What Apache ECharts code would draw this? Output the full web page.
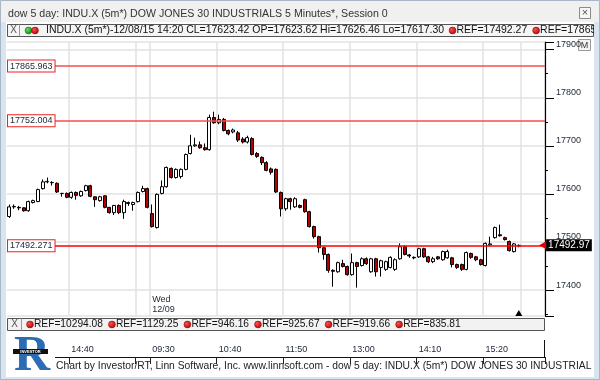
<!DOCTYPE html>
<html><head><meta charset="utf-8">
<script src="https://cdn.jsdelivr.net/npm/echarts@6/dist/echarts.min.js"></script>
<style>html,body{margin:0;padding:0;background:#fff;overflow:hidden}#chart{width:600px;height:380px}</style>
</head><body><div id="chart"></div>
<script>
// ---------- data ----------
const symbolName = 'INDU.X (5m*)';
const titleText = 'dow 5 day: INDU.X (5m*) DOW JONES 30 INDUSTRIALS 5 Minutes*, Session 0';
const footerText = 'Chart by Investor/RT, Linn Software, Inc. www.linnsoft.com - dow 5 day: INDU.X (5m*) DOW JONES 30 INDUSTRIAL';
const day1 = {date: '12/08', year: '15', start: [13, 35], bars: 30};
const day2 = {date: '12/09', dayName: 'Wed', start: [9, 30], bars: 78};
const padBars = 5;

const opens = [17553,17573,17572,17571,17565,17582,17584,17611,17625,17623.62,17622,17601,17601,17593,17603,17596,17607,17617,17594,17586,17596,17572,17561,17576,17561,17582,17578,17584,17605,17611,
17559,17530,17601,17615,17653,17634,17636,17651,17684,17700,17702,17696,17692,17759,17748,17755,17732,17729,17727,17714,17708,17715,17684,17676,17665,17652,17651,17603,17569,17590,17573,17576,17588,17563,17532,17511,17488,17474,17441,17438,17455,17449,
17432,17457,17451,17465,17438,17465,17447,17443,17447,17443,17465,17490,17473,17468,17469,17486,17469,17459,17469,17463,17467,17467,17453,17453,17443,17476,17469,17463,17451,17494,17509,17515,17509,17501,17480,17492];
const closes = [17573,17574,17571,17565,17584,17586,17609,17625,17626,17623.42,17604,17601,17593,17603,17597,17605,17617,17595,17588,17594,17572,17561,17576,17561,17584,17580,17582,17603,17611,17572,
17532,17599,17615,17655,17634,17651,17651,17682,17700,17702,17696,17692,17759,17748,17755,17732,17725,17733,17712,17708,17717,17682,17678,17665,17649,17645,17604,17569,17590,17584,17590,17572,17563,17532,17511,17488,17474,17441,17439,17457,17449,17432,
17457,17449,17465,17455,17465,17438,17461,17459,17468,17463,17490,17474,17471,17467,17486,17469,17459,17465,17465,17480,17480,17453,17447,17443,17478,17468,17463,17453,17497,17496,17530,17513,17505,17482,17496,17492.97];
const lows = [17550,17569,17566,17563,17563,17580,17583,17609,17622,17617.30,17602,17594,17591,17590,17588,17594,17605,17593,17573,17584,17570,17559,17556,17558,17548,17575,17565,17582,17603,17570,
17530,17528,17599,17613,17632,17632,17632,17649,17682,17698,17694,17690,17690,17746,17745,17730,17722,17726,17708,17705,17705,17680,17675,17660,17647,17640,17602,17553,17565,17567,17571,17570,17561,17530,17507,17478,17463,17436,17407,17436,17447,17430,
17430,17405,17449,17452,17436,17428,17428,17440,17445,17440,17463,17472,17467,17464,17467,17467,17456,17456,17463,17461,17465,17447,17444,17440,17441,17465,17460,17451,17449,17492,17507,17511,17503,17480,17478,17489];
const highs = [17578,17578,17575,17572,17586,17588,17611,17630,17634,17626.46,17624,17602,17603,17605,17605,17607,17619,17619,17595,17596,17597,17573,17577,17578,17588,17584,17584,17605,17617,17613,
17578,17601,17628,17657,17655,17653,17653,17684,17723,17717,17709,17705,17765,17771,17765,17758,17734,17736,17731,17718,17721,17718,17687,17678,17668,17655,17653,17605,17592,17592,17593,17578,17590,17565,17534,17513,17490,17476,17443,17459,17463,17451,
17476,17459,17468,17468,17467,17467,17463,17461,17470,17466,17497,17493,17475,17470,17488,17488,17471,17469,17471,17482,17484,17469,17455,17455,17480,17478,17471,17465,17499,17511,17532,17536,17511,17503,17498,17495];

const refLines = [17865.963, 17752.004, 17492.271];
const topRefs = [17492.27, 17865.96];
const bottomRefs = [10294.08, 1129.25, 946.16, 925.67, 919.66, 835.81];
const lastPrice = 17492.97;
const legendBar = 9; // bar shown in the top legend
const tickTimes = ['12/08 14:40','12/08 15:50','12/09 09:30','12/09 10:40','12/09 11:50','12/09 13:00','12/09 14:10','12/09 15:20'];
const labelTimes = ['12/08 14:40','12/09 09:30','12/09 10:40','12/09 11:50','12/09 13:00','12/09 14:10','12/09 15:20'];
const extraSplit = ['12/09 16:00'];
const yMin = 17346, yMax = 17916;

// ---------- build ----------
function makeTimes(date, hm, n) {
  const out = [];
  for (let k = 0; k < n; k++) {
    const t = hm[0] * 60 + hm[1] + 5 * k;
    out.push(date + ' ' + String(Math.floor(t / 60)).padStart(2, '0') + ':' + String(t % 60).padStart(2, '0'));
  }
  return out;
}
const categories = makeTimes(day1.date, day1.start, day1.bars).concat(makeTimes(day2.date, day2.start, day2.bars + padBars));
const candles = opens.map((o, i) => [o, closes[i], lows[i], highs[i]]);
const splitSet = new Set(tickTimes.concat(extraSplit));
const tickSet = new Set(tickTimes);
const labelSet = new Set(labelTimes);
const day2Index = day1.bars;

const FAM = '"Liberation Sans", Arial, sans-serif';
const cv = document.createElement('canvas').getContext('2d');
function textW(s, size) { cv.font = size + 'px ' + FAM; return cv.measureText(s).width; }
function fit(s, target) { return 10 * target / textW(s, 10); }

const G = [];
// window chrome
G.push({type:'rect', z:-5, shape:{x:0,y:0,width:600,height:22}, style:{fill:'#f0f0f0'}});
G.push({type:'rect', z:100, shape:{x:0,y:22,width:6,height:358}, style:{fill:'#d9e4f1'}});
G.push({type:'rect', z:100, shape:{x:594,y:22,width:6,height:358}, style:{fill:'#d9e4f1'}});
G.push({type:'rect', z:100, shape:{x:0,y:377,width:600,height:3}, style:{fill:'#d9e4f1'}});
G.push({type:'rect', z:100, shape:{x:0.5,y:0.5,width:599,height:379}, style:{fill:null, stroke:'#a9b6c6', lineWidth:1}});
const tSize = fit(titleText, 380);
G.push({type:'text', x:8, y:14, style:{text:titleText, font:tSize.toFixed(2)+'px '+FAM, fill:'#333', verticalAlign:'middle'}});
G.push({type:'rect', shape:{x:579.5,y:7.5,width:11,height:11}, style:{fill:'#f7f7f7', stroke:'#8a8a8a'}});
G.push({type:'text', x:585, y:13, style:{text:'×', font:'11px '+FAM, fill:'#555', align:'center', verticalAlign:'middle'}});

// top legend
G.push({type:'rect', shape:{x:7.5,y:24.5,width:586,height:12}, style:{fill:'#f5f5f5', stroke:'#555'}});
G.push({type:'line', shape:{x1:19.5,y1:24.5,x2:19.5,y2:36.5}, style:{stroke:'#999'}});
G.push({type:'text', x:13.5, y:30.5, style:{text:'X', font:'10px '+FAM, fill:'#555', align:'center', verticalAlign:'middle'}});
function dot(cx, cy, c1, c2) {
  return {type:'circle', z:5, shape:{cx:cx, cy:cy, r:3.4}, style:{stroke:c2, lineWidth:0.6,
    fill:{type:'radial', x:0.35, y:0.35, r:0.8, colorStops:[{offset:0,color:c1},{offset:1,color:c2}]}}};
}
G.push(dot(28.5, 30.5, '#5fe05f', '#0a7a0a'));
G.push(dot(35, 30.5, '#ff5050', '#a00000'));
const b = legendBar;
const mainLegend = `${symbolName}-${categories[b].slice(0,5)}/${day1.year} ${categories[b].slice(6)} CL=${closes[b].toFixed(2)} OP=${opens[b].toFixed(2)} Hi=${highs[b].toFixed(2)} Lo=${lows[b].toFixed(2)}`;
const lSize = fit(mainLegend, 398);
const lFont = lSize.toFixed(2) + 'px ' + FAM;
G.push({type:'text', x:46, y:30.5, style:{text:mainLegend, font:lFont, fill:'#111', verticalAlign:'middle'}});
let xx = 46 + textW(mainLegend, lSize);
topRefs.forEach(v => {
  const cx = xx + 9; G.push(dot(cx, 30.5, '#ff5050', '#a00000'));
  const s = 'REF=' + v.toFixed(2);
  G.push({type:'text', x:cx + 4, y:30.5, style:{text:s, font:lFont, fill:'#111', verticalAlign:'middle'}});
  xx = cx + 4 + textW(s, lSize);
});

// bottom legend
G.push({type:'rect', shape:{x:7.5,y:318.5,width:537,height:12}, style:{fill:'#f2f2f2', stroke:'#555'}});
G.push({type:'line', shape:{x1:21.5,y1:318.5,x2:21.5,y2:330.5}, style:{stroke:'#999'}});
G.push({type:'text', x:14.5, y:324.5, style:{text:'X', font:'10px '+FAM, fill:'#555', align:'center', verticalAlign:'middle'}});
const bSize = fit('REF=' + bottomRefs[0].toFixed(2), 69);
const bFont = bSize.toFixed(2) + 'px ' + FAM;
xx = 21;
bottomRefs.forEach(v => {
  const cx = xx + 9; G.push(dot(cx, 324.5, '#ff5050', '#a00000'));
  const s = 'REF=' + v.toFixed(2);
  G.push({type:'text', x:cx + 4, y:324.5, style:{text:s, font:bFont, fill:'#111', verticalAlign:'middle'}});
  xx = cx + 4 + textW(s, bSize);
});

// M button
G.push({type:'rect', shape:{x:578.5,y:39.5,width:12,height:11}, style:{fill:'#f3f3f3', stroke:'#9a9a9a'}});
G.push({type:'text', x:584.5, y:45.5, style:{text:'M', font:'9px '+FAM, fill:'#333', align:'center', verticalAlign:'middle'}});

// bottom axis frame
G.push({type:'line', shape:{x1:55,y1:357.5,x2:545,y2:357.5}, style:{stroke:'#111', lineWidth:1}});
G.push({type:'line', shape:{x1:544.5,y1:340,x2:544.5,y2:357.5}, style:{stroke:'#111', lineWidth:1}});

// logo
G.push({type:'text', x:14, y:357, style:{text:'R', font:'bold 50px "Liberation Serif", serif', fill:'#2d6cb5', verticalAlign:'middle'}});
G.push({type:'rect', shape:{x:13,y:349,width:35,height:5}, style:{fill:'#111'}});
G.push({type:'text', x:30.5, y:351.5, style:{text:'INVESTOR', font:'bold 4px '+FAM, fill:'#fff', align:'center', verticalAlign:'middle'}});

// footer
const fSize = fit(footerText, 536);
G.push({type:'text', x:56, y:366, style:{text:footerText, font:fSize.toFixed(2)+'px '+FAM, fill:'#222', verticalAlign:'middle'}});

const refColors = ['#f05050', '#f05050', '#ff0000'];

const option = {
  animation: false,
  backgroundColor: '#ffffff',
  grid: [
    {left: 7, top: 42, width: 538, height: 274},
    {left: 7, top: 333, width: 538, height: 24}
  ],
  xAxis: [
    {type:'category', gridIndex:0, data:categories, boundaryGap:true,
     axisLine:{show:false}, axisTick:{show:false}, axisLabel:{show:false},
     splitLine:{show:true, interval:(i, v) => splitSet.has(v), lineStyle:{color:'#e2e2e2', width:1.5}}},
    {type:'category', gridIndex:1, data:categories, boundaryGap:true, position:'top',
     axisLine:{show:false},
     axisTick:{show:true, inside:true, length:7, interval:(i, v) => tickSet.has(v), lineStyle:{color:'#222'}},
     axisLabel:{show:true, inside:true, margin:12, align:'left', interval:(i, v) => labelSet.has(v),
       formatter:v => v.slice(6), fontSize:9, color:'#1d2535', fontFamily:FAM},
     splitLine:{show:false}}
  ],
  yAxis: [
    {type:'value', gridIndex:0, position:'right', min:yMin, max:yMax, splitNumber:5, scale:true,
     axisLine:{show:true, lineStyle:{color:'#000', width:1.2}},
     axisTick:{show:true, length:9, lineStyle:{color:'#000'}},
     minorTick:{show:true, splitNumber:2, length:3, lineStyle:{color:'#000'}},
     axisLabel:{show:true, margin:11, fontSize:9, color:'#1d2535', fontFamily:FAM, verticalAlign:'bottom', lineHeight:10,
       showMinLabel:false, showMaxLabel:false, formatter:v => String(v)},
     splitLine:{show:true, lineStyle:{color:'#e2e2e2', width:1.5}}},
    {type:'value', gridIndex:1, show:false}
  ],
  graphic: G,
  series: [
  {
    type:'candlestick', xAxisIndex:0, yAxisIndex:0, data:candles, barWidth:3.5,
    itemStyle:{color:'#ffffff', color0:'#b40000', borderColor:'#000', borderColor0:'#000', borderWidth:1},
    markPoint:{silent:true, animation:false, data:[
      {coord:[categories.length - 1, lastPrice], symbol:'triangle', symbolRotate:90, symbolSize:[8,7],
       itemStyle:{color:'#e00000'},
       label:{show:true, position:'right', distance:0, formatter:lastPrice.toFixed(2), backgroundColor:'#000', color:'#fff',
         fontSize:10, padding:[1,2,0,2], lineHeight:11, fontFamily:FAM}},
      {coord:[day2Index, yMin], symbol:'rect', symbolSize:0.1, itemStyle:{color:'transparent'},
       label:{show:true, position:'top', distance:1, align:'left', formatter:day2.dayName + '\n' + day2.date,
         fontSize:9, lineHeight:10, color:'#1d2535', fontFamily:FAM}},
      {coord:[opens.length - 1, yMin], symbol:'triangle', symbolSize:[7,6], symbolOffset:[0,-3],
       itemStyle:{color:'#000'}, label:{show:false}}
    ]}
  }].concat(refLines.map((v, k) => ({
    type:'line', xAxisIndex:0, yAxisIndex:0, data:[], silent:true, z:3,
    markLine:{silent:true, symbol:['none','none'], animation:false,
      lineStyle:{color:refColors[k], width:1.6, type:'solid', opacity:1},
      emphasis:{disabled:true},
      data:[{yAxis:v,
        label:{show:true, formatter:v.toFixed(3), position:'insideStartTop', distance:[1,0], align:'left', verticalAlign:'middle',
          backgroundColor:'#fff', borderColor:'#e22', borderWidth:1, padding:[1,2,0,2], fontSize:9, lineHeight:10,
          color:'#1d2535', fontFamily:FAM}}]}
  })))
};
const chart = echarts.init(document.getElementById('chart'), null, {renderer:'canvas'});
chart.setOption(option);
</script></body></html>
